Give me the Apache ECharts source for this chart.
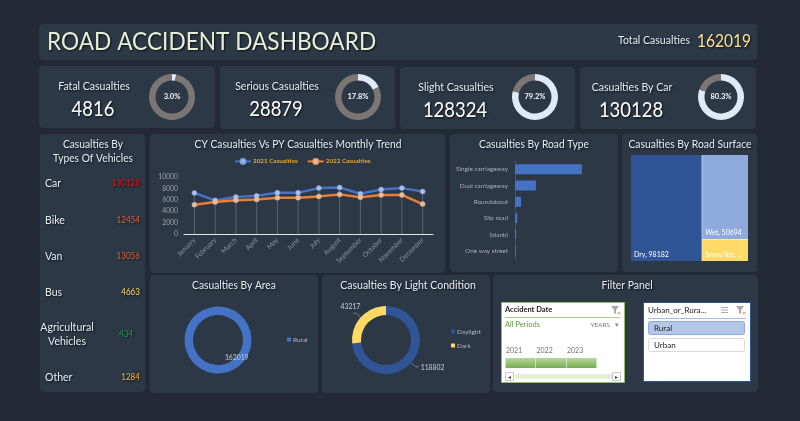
<!DOCTYPE html>
<html>
<head>
<meta charset="utf-8">
<style>
html,body{margin:0;padding:0;background:#232a35;}
#main{width:800px;height:421px;}
</style>
<script src="https://cdn.jsdelivr.net/npm/echarts@6/dist/echarts.min.js"></script>
</head>
<body>
<div id="main"></div>
<script>
var totalCasualties = 162019;
var kpiNames = ['Fatal Casualties', 'Serious Casualties', 'Slight Casualties', 'Casualties By Car'];
var kpiValues = [4816, 28879, 128324, 130128];
var kpiPercents = ['3.0%', '17.8%', '79.2%', '80.3%'];

var vehicleNames = ['Car', 'Bike', 'Van', 'Bus', 'Agricultural\nVehicles', 'Other'];
var vehicleValues = [130128, 12454, 13056, 4663, 434, 1284];
var vehicleColors = ['#e01212', '#e2603a', '#e2603a', '#ffd966', '#1f9e4a', '#f4b13c'];

var months = ['January', 'February', 'March', 'April', 'May', 'June', 'July', 'August', 'September', 'October', 'November', 'December'];
var cy2021 = [7200, 5900, 6500, 6700, 7250, 7250, 8050, 8150, 7050, 7800, 8050, 7450];
var py2022 = [5150, 5600, 5900, 6050, 6350, 6350, 6600, 6950, 6450, 6850, 6850, 5250];

var roadTypes = ['Single carriageway', 'Dual carriageway', 'Roundabout', 'Slip road', '(blank)', 'One way street'];
var roadValues = [115000, 36000, 10500, 4000, 2000, 1500];

var surfaceNames = ['Dry', 'Wet', 'Snow/Ice'];
var surfaceValues = [98182, 50694, 13143];

var areaNames = ['Rural'];
var areaValues = [162019];

var lightNames = ['Daylight', 'Dark'];
var lightValues = [118802, 43217];

var sliceYears = ['2021', '2022', '2023'];

var FONT = 'Lato';
var PANEL = '#2d3846';
var graphics = [];

function panel(x, y, w, h) {
	graphics.push({ type: 'rect', shape: { x: x, y: y, width: w, height: h, r: 4 }, style: { fill: PANEL } });
}

function box(x, y, w, h, fill, stroke, r) {
	graphics.push({ type: 'rect', shape: { x: x, y: y, width: w, height: h, r: r || 0 }, style: { fill: fill, stroke: stroke || null, lineWidth: stroke ? 1 : 0 } });
}

// heading text is squeezed a little, Lato runs wider than the original font
function txt(x, y, text, size, color, align) {
	graphics.push({
		type: 'text', x: x, y: y, scaleX: 0.9,
		style: {
			x: 0, y: 0, text: text, fill: color, font: size + 'px ' + FONT,
			align: align || 'center', verticalAlign: 'middle', lineHeight: 13.5,
			textShadowColor: 'rgba(0,0,0,0.75)', textShadowBlur: 2, textShadowOffsetX: 1, textShadowOffsetY: 1
		}
	});
}

function plainTxt(x, y, text, size, color, align, weight) {
	graphics.push({
		type: 'text',
		style: {
			x: x, y: y, text: text, fill: color, font: (weight ? weight + ' ' : '') + size + 'px ' + FONT,
			align: align || 'center', verticalAlign: 'middle'
		}
	});
}

function funnel(x, y) {
	graphics.push({ type: 'polygon', shape: { points: [[x, y], [x + 8, y], [x + 5, y + 4], [x + 5, y + 8], [x + 3, y + 7], [x + 3, y + 4]] }, style: { fill: '#a8a8a8' } });
	graphics.push({ type: 'circle', shape: { cx: x + 8, cy: y + 7, r: 1.6 }, style: { fill: '#e8b9a0' } });
}

// panels
panel(39, 24, 718, 36);
panel(39, 66, 176, 62);
panel(220, 66, 175, 63);
panel(400, 67, 175, 62);
panel(580, 67, 176, 62);
panel(40, 134, 105, 258);
panel(150, 134, 295, 139);
panel(450, 134, 168, 138);
panel(622, 134, 135, 138);
panel(150, 275, 168, 118);
panel(322, 275, 168, 118);
panel(493, 275, 265, 117);

// header
txt(47, 42, 'ROAD ACCIDENT DASHBOARD', 25.2, '#e6efd8', 'left');
txt(690, 40, 'Total Casualties', 11.7, '#e8edf3', 'right');
txt(697, 41, String(totalCasualties), 17.3, '#ffe08f', 'left');

// kpi cards
var kpiLabelX = [94, 277, 456, 632];
var kpiLabelY = [86, 86, 87, 87];
var kpiCenterX = [172, 358, 535, 721];
kpiNames.forEach(function(name, i) {
	txt(kpiLabelX[i], kpiLabelY[i], name, 11.7, '#e8edf3');
	txt(kpiLabelX[i] - 1, kpiLabelY[i] + 23, String(kpiValues[i]), 20.5, '#ffffff');
});

// vehicle list
txt(93, 144, 'Casualties By', 11.4, '#e8edf3');
txt(93, 158, 'Types Of Vehicles', 11.4, '#e8edf3');
var vehicleY = [183, 220, 256, 292, 334, 377];
vehicleNames.forEach(function(name, i) {
	if (name.indexOf('\n') >= 0) {
		txt(67, vehicleY[i], name, 11.7, '#e8edf3');
		txt(126, vehicleY[i], String(vehicleValues[i]), 9, vehicleColors[i]);
	} else {
		txt(45, vehicleY[i], name, 11.7, '#e8edf3', 'left');
		txt(140, vehicleY[i], String(vehicleValues[i]), 9, vehicleColors[i], 'right');
	}
});

// panel titles
txt(298, 144, 'CY Casualties Vs PY Casualties Monthly Trend', 11.4, '#e8edf3');
txt(534, 144, 'Casualties By Road Type', 11.4, '#e8edf3');
txt(690, 144, 'Casualties By Road Surface', 11.5, '#e8edf3');
txt(234, 285, 'Casualties By Area', 11.4, '#e8edf3');
txt(408, 285, 'Casualties By Light Condition', 11.7, '#e8edf3');
txt(627, 285, 'Filter Panel', 11.5, '#e8edf3');

// date slicer
box(501.5, 302.5, 123, 80, '#ffffff', '#8fbf6a');
plainTxt(505, 310, 'Accident Date', 7.5, '#222222', 'left', 'bold');
funnel(611, 306);
box(505, 317, 115, 1, '#a9cf8e');
plainTxt(505, 325, 'All Periods', 7.5, '#5f9e3a', 'left');
plainTxt(610, 325, 'YEARS', 6.5, '#777777', 'right');
plainTxt(617, 325, '▾', 6.5, '#888888');
sliceYears.forEach(function(year, i) {
	plainTxt(506 + i * 30.5, 351, year, 7, '#777777', 'left');
	graphics.push({
		type: 'rect', shape: { x: 505.5 + i * 30.5, y: 358, width: 30, height: 10 },
		style: { fill: new echarts.graphic.LinearGradient(0, 0, 0, 1, [{ offset: 0, color: '#b5d89c' }, { offset: 1, color: '#77ad52' }]) }
	});
});
box(515, 374, 97, 5, '#e3efd9');
box(505.5, 372.5, 8, 8, '#ffffff', '#c8c8c8');
box(612.5, 372.5, 8, 8, '#ffffff', '#c8c8c8');
plainTxt(509.5, 377, '◂', 6, '#444444');
plainTxt(616.5, 377, '▸', 6, '#444444');

// area slicer
box(643.5, 302.5, 107, 79, '#ffffff', '#2f5597');
plainTxt(648, 310, 'Urban_or_Rura...', 8, '#222222', 'left');
funnel(736, 306);
for (var l = 0; l < 3; l++) {
	box(721, 307 + l * 2.6, 7, 0.8, '#999999');
}
box(648, 318, 98, 1, '#a9bcdf');
box(648.5, 321.5, 96, 13, '#b4c7e7', '#8faadc', 2);
plainTxt(654, 328, areaNames[0], 8, '#222222', 'left');
box(648.5, 338.5, 96, 13, '#ffffff', '#d9d9d9', 2);
plainTxt(654, 345, 'Urban', 8, '#222222', 'left');

function kpiDonut(i) {
	return {
		type: 'pie', silent: true, center: [kpiCenterX[i], 97], radius: [16.5, 23], startAngle: 90, clockwise: true,
		data: [
			{
				value: kpiValues[i], name: kpiNames[i], itemStyle: { color: '#dfeaf7' },
				label: { show: true, position: 'center', formatter: kpiPercents[i], color: '#f2f4f7', fontSize: 7.5, fontFamily: FONT, fontWeight: 'bold' }
			},
			{ value: totalCasualties - kpiValues[i], name: 'rest' + i, itemStyle: { color: '#7b7674' }, label: { show: false } }
		],
		labelLine: { show: false }
	};
}

var surfaceData = surfaceNames.map(function(n, i) {
	return { name: n, value: surfaceValues[i], itemStyle: { color: ['#2f5597', '#8faadc', '#ffd966'][i] } };
});

var series = [0, 1, 2, 3].map(kpiDonut);

series.push({
	type: 'bar', silent: true, xAxisIndex: 0, yAxisIndex: 0, data: cy2021, barWidth: 1,
	itemStyle: { color: 'rgba(170,178,190,0.35)' }
});
series.push({
	type: 'line', name: '2021 Casualties', xAxisIndex: 0, yAxisIndex: 0, data: cy2021, symbol: 'circle', symbolSize: 5,
	lineStyle: { color: '#4472c4', width: 2.5 }, itemStyle: { color: '#a9c1e8', borderColor: '#7f9fd6', borderWidth: 0.5 }
});
series.push({
	type: 'line', name: '2022 Casualties', xAxisIndex: 0, yAxisIndex: 0, data: py2022, symbol: 'circle', symbolSize: 5,
	lineStyle: { color: '#ed7d31', width: 2.5 }, itemStyle: { color: '#d8c0b0', borderColor: '#e9a374', borderWidth: 0.5 }
});
series.push({
	type: 'bar', xAxisIndex: 1, yAxisIndex: 1, data: roadValues, barWidth: 10, silent: true, itemStyle: { color: '#4472c4' }
});
series.push({
	type: 'treemap', left: 631, top: 155, width: 117, height: 106, roam: false, nodeClick: false, silent: true,
	breadcrumb: { show: false }, data: surfaceData, squareRatio: 1,
	itemStyle: { borderWidth: 0, gapWidth: 0.5, gapColor: '#1f2a3c' },
	label: {
		show: true, position: 'insideBottomLeft', color: '#ffffff', fontSize: 7, fontFamily: FONT,
		padding: [0, 0, 3, 3], formatter: function(p) { return p.name + ', ' + p.value; },
		overflow: 'truncate', ellipsis: '...'
	},
	upperLabel: { show: false }
});
series.push({
	type: 'pie', silent: true, center: [218, 340], radius: [25, 33.5], startAngle: 140,
	data: areaNames.map(function(n, i) { return { name: n, value: areaValues[i] }; }),
	itemStyle: { color: '#4472c4' },
	label: { show: true, position: 'inside', formatter: '{c}', color: '#c9cdd3', fontSize: 6.8, fontFamily: FONT },
	labelLayout: { dx: -6, dy: -3 },
	labelLine: { show: false }
});
series.push({
	type: 'pie', silent: true, center: [386, 340], radius: [25, 34], startAngle: 90,
	data: lightNames.map(function(n, i) { return { name: n, value: lightValues[i], itemStyle: { color: ['#2f5597', '#ffd966'][i] } }; }),
	label: { show: true, formatter: '{c}', color: '#c9cdd3', fontSize: 6.8, fontFamily: FONT },
	labelLayout: function(p) { return p.dataIndex === 0 ? { dx: -3, dy: 1 } : { dx: 12, dy: -6 }; },
	labelLine: { show: true, length: 6, length2: 3, lineStyle: { color: '#9aa0a8', width: 0.7 } }
});

var chart = echarts.init(document.getElementById('main'));
chart.setOption({
	animation: false,
	backgroundColor: '#232a35',
	graphic: { elements: graphics },
	legend: [
		{
			data: ['2021 Casualties', '2022 Casualties'], left: 234, top: 158, padding: 0, itemWidth: 16, itemHeight: 6, itemGap: 9,
			textStyle: { color: '#e0a526', fontSize: 6.3, fontFamily: FONT, fontWeight: 'bold', padding: [0, 0, 0, -3] }
		},
		{
			data: areaNames, left: 287, top: 336, padding: 0, itemWidth: 4, itemHeight: 4, itemGap: 4, icon: 'rect',
			textStyle: { color: '#b4bac2', fontSize: 6.5, fontFamily: FONT, padding: [0, 0, 0, -3] }
		},
		{
			data: lightNames, left: 451, top: 328, padding: 0, orient: 'vertical', itemWidth: 4, itemHeight: 4, itemGap: 7, icon: 'rect',
			textStyle: { color: '#b4bac2', fontSize: 6.5, fontFamily: FONT, padding: [0, 0, 0, -3] }
		}
	],
	grid: [
		{ left: 184, top: 177, width: 249, height: 57 },
		{ left: 515, top: 161, width: 93, height: 98 }
	],
	xAxis: [
		{
			gridIndex: 0, type: 'category', data: months,
			axisLine: { lineStyle: { color: '#e4e7ea', width: 1 } }, axisTick: { show: false },
			axisLabel: { rotate: 45, color: '#8e949c', fontSize: 6.8, fontFamily: FONT, margin: 5, interval: 0 }
		},
		{ gridIndex: 1, type: 'value', min: 0, max: 160000, show: false }
	],
	yAxis: [
		{
			gridIndex: 0, type: 'value', min: 0, max: 10000, interval: 2000,
			axisLine: { show: false }, axisTick: { show: false }, splitLine: { show: false },
			axisLabel: { color: '#9aa0a8', fontSize: 6.8, fontFamily: FONT, margin: 6, formatter: function(v) { return String(v); } }
		},
		{
			gridIndex: 1, type: 'category', data: roadTypes, inverse: true,
			axisLine: { lineStyle: { color: '#5a6470', width: 0.6 } }, axisTick: { show: false },
			axisLabel: { color: '#a8aeb6', fontSize: 6.4, fontFamily: FONT, margin: 7, interval: 0 }
		}
	],
	series: series
});
</script>
</body>
</html>
